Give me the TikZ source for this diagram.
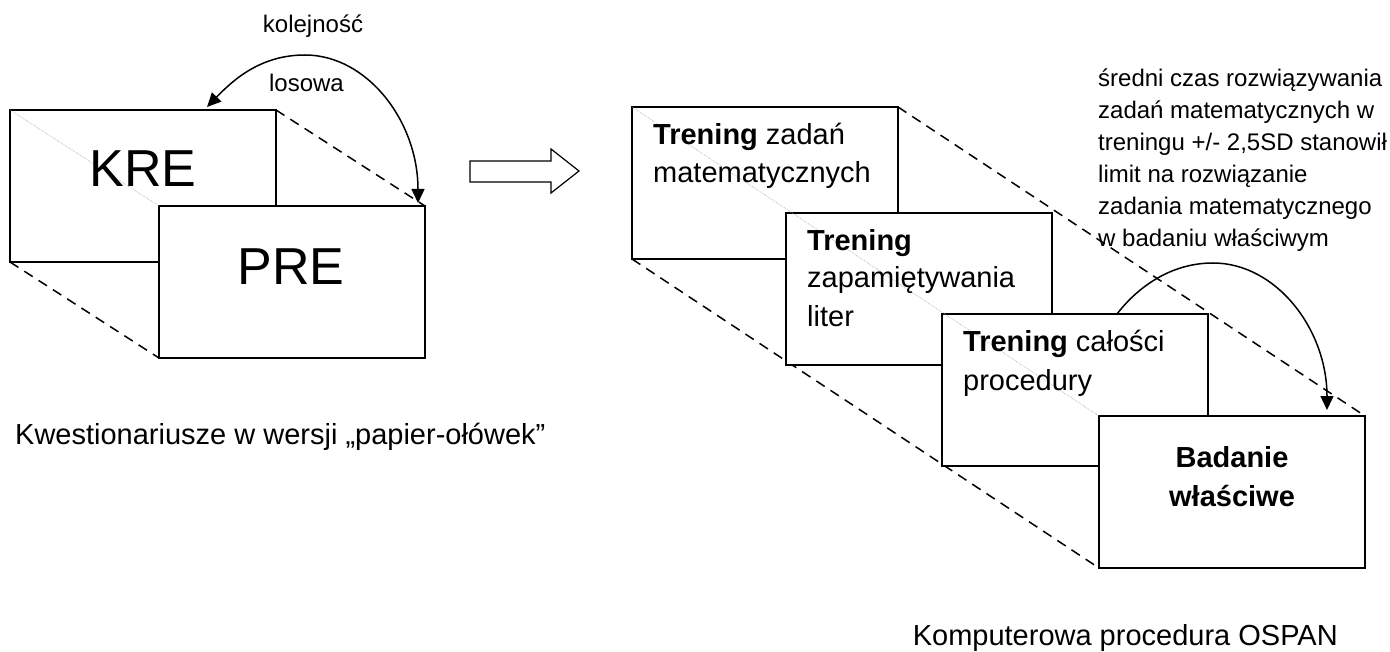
\documentclass[tikz,border=0pt]{standalone}
\usepackage{fontspec}
\setmainfont{Liberation Sans}
\usetikzlibrary{calc,arrows.meta}
\tikzset{
  card/.style={draw, line width=1.5pt, fill=white, minimum width=266pt, minimum height=152pt, inner sep=0pt, outer sep=0pt, anchor=north west},
  guide/.style={dashed, dash pattern=on 10pt off 7pt, line width=1.5pt},
  faint/.style={draw=gray!70, line width=0.6pt, densely dotted},
  boxtxt/.style={inner sep=0pt, anchor=base west, font=\fontsize{29}{35}\selectfont},
  bigtxt/.style={inner sep=0pt, anchor=base, font=\fontsize{52}{60}\selectfont},
  smalltxt/.style={inner sep=0pt, anchor=base west, font=\fontsize{24}{30}\selectfont},
  arcline/.style={line width=1.5pt},
  tipT/.tip={Triangle[length=14pt,width=13pt]}
}
\begin{document}
\begin{tikzpicture}[x=1pt,y=-1pt]
\useasboundingbox (0,0) rectangle (1390,652);
% ---------- left group ----------
\coordinate (kreTL) at (10,110);
\coordinate (preTL) at (159,206);
\draw[guide] ($(kreTL)+(266,0)$) -- ($(preTL)+(266,0)$);
\draw[guide] ($(kreTL)+(0,152)$) -- ($(preTL)+(0,152)$);
\node[card] (kre) at (kreTL) {};
\node[card] (pre) at (preTL) {};
\draw[faint] (kre.north west) -- (pre.north west);
\node[bigtxt] (kretxt) at (143,187) {KRE};
\node[bigtxt] (pretxt) at (291,285) {PRE};
\draw[arcline, tipT-tipT] (418,203) .. controls (418,121) and (367,55) .. (305,55)
   .. controls (262,55) and (235,78) .. (207,107);
\node[smalltxt, anchor=base] (kol) at (313,33) {kolejność};
\node[smalltxt, anchor=base] (los) at (306.5,92) {losowa};
\node[boxtxt] (capL) at (15,444) {Kwestionariusze w wersji „papier-ołówek”};
% ---------- block arrow ----------
\draw[line width=1.2pt, fill=white] (470,161) -- (551,161) -- (551,149) -- (579,171)
   -- (551,193) -- (551,182) -- (470,182) -- cycle;
% ---------- right group ----------
\coordinate (c1) at (632,107);
\coordinate (c2) at (786,213);
\coordinate (c3) at (942,314);
\coordinate (c4) at (1099,416);
\draw[guide] ($(c1)+(266,0)$) -- ($(c4)+(266,0)$);
\draw[guide] ($(c1)+(0,152)$) -- ($(c4)+(0,152)$);
\draw[arcline, -tipT] (1117,314) .. controls (1137,288) and (1170,263) .. (1213,263)
   .. controls (1276,263) and (1327,329) .. (1327,410);
\node[card] (b1) at (c1) {};
\node[card] (b2) at (c2) {};
\node[card] (b3) at (c3) {};
\node[card] (b4) at (c4) {};
\draw[faint] (b1.north west) -- (b4.north west);
\node[boxtxt] (t1a) at ($(b1.north west)+(21,38)$) {\textbf{Trening} zadań};
\node[boxtxt] (t1b) at ($(b1.north west)+(21,76)$) {matematycznych};
\node[boxtxt] (t2a) at ($(b2.north west)+(21,38)$) {\textbf{Trening}};
\node[boxtxt] (t2b) at ($(b2.north west)+(21,75)$) {zapamiętywania};
\node[boxtxt] (t2c) at ($(b2.north west)+(21,114)$) {liter};
\node[boxtxt] (t3a) at ($(b3.north west)+(21,38)$) {\textbf{Trening} całości};
\node[boxtxt] (t3b) at ($(b3.north west)+(21,76)$) {procedury};
\node[boxtxt, anchor=base] (t4a) at (1232,467) {\textbf{Badanie}};
\node[boxtxt, anchor=base] (t4b) at (1232,506) {\textbf{właściwe}};
\node[smalltxt] (s1) at (1098,87) {średni czas rozwiązywania};
\node[smalltxt] (s2) at (1098,119) {zadań matematycznych w};
\node[smalltxt] (s3) at (1098,151) {treningu +/- 2,5SD stanowił};
\node[smalltxt] (s4) at (1098,183) {limit na rozwiązanie};
\node[smalltxt] (s5) at (1098,215) {zadania matematycznego};
\node[smalltxt] (s6) at (1098,247) {w badaniu właściwym};
\node[boxtxt, anchor=base east] (capR) at (1338,645) {Komputerowa procedura OSPAN};
\end{tikzpicture}
\end{document}
